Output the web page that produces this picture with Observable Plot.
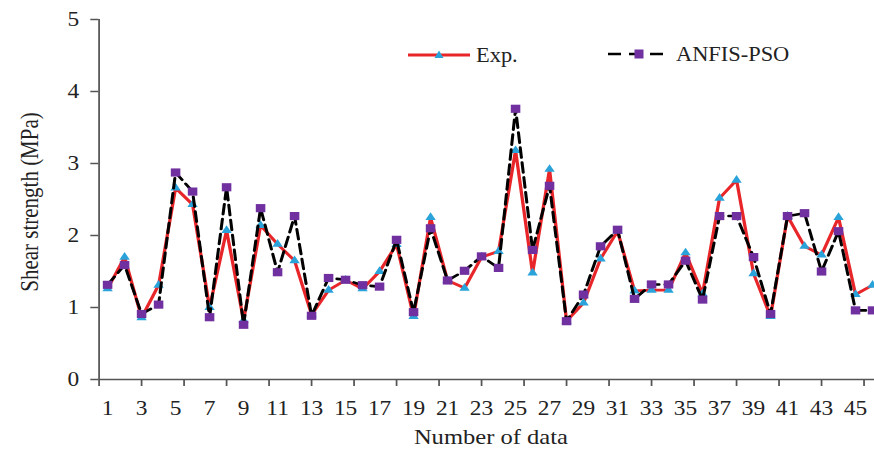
<!DOCTYPE html>
<html>
<head>
<meta charset="utf-8">
<script src="https://cdn.jsdelivr.net/npm/d3@7"></script>
<script src="https://cdn.jsdelivr.net/npm/@observablehq/plot@0.6"></script>
<style>
  html, body { margin: 0; padding: 0; background: #fff; }
  #wrap { position: relative; width: 874px; height: 454px; overflow: hidden; }
  .leg { position: absolute; display: flex; align-items: center; font-family: "Liberation Serif", "Times New Roman", serif; font-size: 20px; color: #222; }
  .leg span { display: inline-block; transform: scaleX(1.12); transform-origin: left center; margin-left: 6px; }
</style>
</head>
<body>
<div id="wrap">
  <div id="chart"></div>
  <div class="leg" style="left:408px; top:43px;">
    <svg width="62" height="24"><line x1="0" x2="62" y1="12" y2="12" stroke="#e8262a" stroke-width="2.8"/><path d="M31,7.5 L35.5,15 L26.5,15 Z" fill="#29a3d9"/></svg>
    <span>Exp.</span>
  </div>
  <div class="leg" style="left:608px; top:42px;">
    <svg width="62" height="24"><line x1="0" x2="62" y1="12" y2="12" stroke="#000" stroke-width="2.6" stroke-dasharray="13,8"/><rect x="26.5" y="7.5" width="9" height="9" fill="#7030a0"/></svg>
    <span>ANFIS-PSO</span>
  </div>
</div>
<script>
// Data
const sampleNo = d3.range(1, 47);
const expValues = [1.26, 1.70, 0.86, 1.31, 2.66, 2.43, 1.00, 2.07, 0.82, 2.14,
                   1.88, 1.65, 0.90, 1.24, 1.38, 1.26, 1.50, 1.875, 0.875, 2.25,
                   1.375, 1.27, 1.70, 1.78, 3.18, 1.48, 2.92, 0.81, 1.065, 1.675,
                   2.06, 1.23, 1.24, 1.24, 1.76, 1.19, 2.52, 2.77, 1.47, 0.875,
                   2.27, 1.85, 1.73, 2.25, 1.18, 1.31];
const anfisValues = [1.315, 1.59, 0.91, 1.04, 2.875, 2.61, 0.865, 2.67, 0.76, 2.38,
                     1.49, 2.27, 0.885, 1.41, 1.385, 1.31, 1.29, 1.94, 0.935, 2.10,
                     1.375, 1.51, 1.71, 1.55, 3.76, 1.80, 2.69, 0.81, 1.18, 1.85,
                     2.08, 1.12, 1.32, 1.32, 1.65, 1.11, 2.27, 2.27, 1.70, 0.91,
                     2.27, 2.31, 1.50, 2.06, 0.96, 0.96];
const xTickLabels = d3.range(1, 46, 2);
const xTickMarks = [0.5, 3, 5.5, 8, 10.5, 13, 15.5, 18, 20.5, 23, 25.5, 28, 30.5, 33, 35.5, 38, 40.5, 43, 45.5];
const yTicks = [0, 1, 2, 3, 4, 5];

const rows = sampleNo.map((n, i) => ({n, exp: expValues[i], anfis: anfisValues[i]}));

const stretch = 1.17;
const W = 874 / stretch;
const H = 454;
const axisColor = "#555";

const chart = Plot.plot({
  width: W,
  height: H,
  marginLeft: 98.5 / stretch,
  marginRight: 0,
  marginTop: 19,
  marginBottom: 75,
  x: {domain: [0.5, 46.12], label: null},
  y: {domain: [0, 5], label: null},
  style: {fontFamily: "'Liberation Serif', 'Times New Roman', serif", fontSize: "20px", color: "#222", background: "white"},
  marks: [
    Plot.axisY({ticks: yTicks, tickSize: 7, tickPadding: 10, stroke: axisColor, strokeWidth: 1.5, tickFormat: d => d, label: null}),
    Plot.axisX({ticks: xTickMarks, tickSize: 7, stroke: axisColor, strokeWidth: 1.5, tickFormat: () => "", label: null}),
    Plot.axisX({ticks: xTickLabels, tickSize: 0, tickPadding: 21, tickFormat: d => d, label: null}),
    Plot.ruleY([0], {stroke: axisColor, strokeWidth: 1.5}),
    Plot.ruleX([0.5], {stroke: axisColor, strokeWidth: 1.5}),
    Plot.line(rows, {x: "n", y: "exp", stroke: "#e8262a", strokeWidth: 2.8}),
    Plot.dot(rows, {x: "n", y: "exp", symbol: "triangle", r: 3.3, fill: "#29a3d9"}),
    Plot.line(rows, {x: "n", y: "anfis", stroke: "#000", strokeWidth: 2.6, strokeDasharray: "10,5"}),
    Plot.dot(rows, {x: "n", y: "anfis", symbol: "square", r: 4.6, fill: "#7030a0"}),
    Plot.text(["Number of data"], {frameAnchor: "bottom", lineAnchor: "bottom", textAnchor: "middle", dy: 64.5, dx: 3.5, fontSize: 21, fill: "#222"}),
    Plot.text(["Shear strength (MPa)"], {frameAnchor: "left", rotate: -90, textAnchor: "middle", lineAnchor: "middle", dx: -58.6, dy: 2.5, fontSize: 21, fill: "#222"})
  ]
});

chart.setAttribute("width", 874);
chart.setAttribute("height", H);
chart.setAttribute("preserveAspectRatio", "none");
chart.style.width = "874px";
chart.style.height = H + "px";
chart.style.maxWidth = "none";
document.getElementById("chart").appendChild(chart);
</script>
</body>
</html>
